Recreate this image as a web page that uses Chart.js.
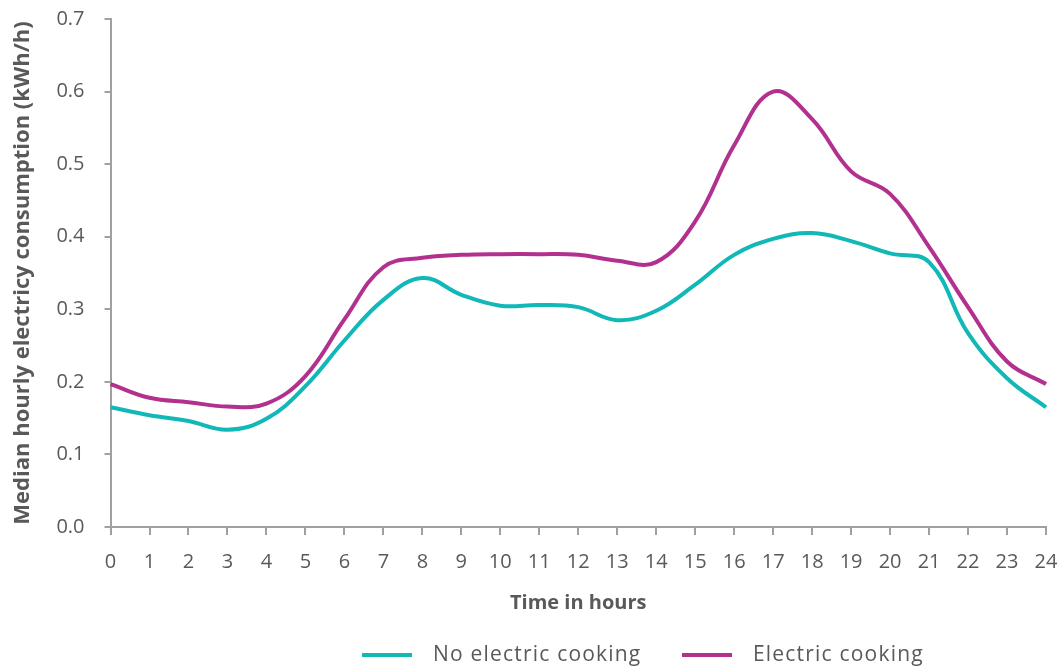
<!DOCTYPE html>
<html>
<head>
<meta charset="utf-8">
<script src="https://cdn.jsdelivr.net/npm/chart.js@4/dist/chart.umd.min.js"></script>
<style>
  html, body { margin: 0; padding: 0; background: #ffffff; }
  #wrap { width: 1061px; height: 666px; position: relative; }
</style>
</head>
<body>
<div id="wrap"><canvas id="c" width="1061" height="666"></canvas></div>
<script>
// ---- Data ----
const hours = ['0','1','2','3','4','5','6','7','8','9','10','11','12','13','14','15','16','17','18','19','20','21','22','23','24'];
const noElectricCooking = [0.165,0.154,0.146,0.134,0.149,0.194,0.257,0.313,0.343,0.320,0.305,0.306,0.303,0.285,0.298,0.334,0.375,0.397,0.405,0.394,0.377,0.365,0.267,0.205,0.165];
const electricCooking   = [0.197,0.178,0.172,0.166,0.170,0.208,0.286,0.358,0.371,0.375,0.376,0.376,0.375,0.367,0.365,0.421,0.526,0.600,0.562,0.490,0.459,0.386,0.303,0.228,0.197];
const seriesNames = ['No electric cooking', 'Electric cooking'];
const yTitle = 'Median hourly electricy consumption (kWh/h)';
const xTitle = 'Time in hours';

const TEXT = '#595959';
const AXIS = '#A0A0A0';
const TEAL = '#12B8B8';
const MAGENTA = '#B2318F';
const FONT = "'Open Sans', 'Liberation Sans', sans-serif";

// Custom legend drawn below the chart (positions are style only)
const legendPlugin = {
  id: 'bottomLegend',
  afterDraw(chart, args, opts) {
    const ctx = chart.ctx;
    ctx.save();
    chart.data.datasets.forEach((ds, i) => {
      const x = opts.anchors[i];
      const y = opts.y;
      ctx.strokeStyle = ds.borderColor;
      ctx.lineWidth = 4;
      ctx.lineCap = 'butt';
      ctx.beginPath();
      ctx.moveTo(x, y);
      ctx.lineTo(x + opts.lineLen, y);
      ctx.stroke();
      ctx.fillStyle = TEXT;
      ctx.font = opts.font;
      ctx.textBaseline = 'middle';
      ctx.textAlign = 'left';
      try { ctx.letterSpacing = opts.letterSpacing; } catch (e) {}
      ctx.fillText(ds.label, x + opts.textGap, y);
    });
    ctx.restore();
  }
};

new Chart(document.getElementById('c'), {
  type: 'line',
  data: {
    labels: hours,
    datasets: [
      { label: seriesNames[0], data: noElectricCooking, borderColor: TEAL, backgroundColor: TEAL,
        borderWidth: 4, pointRadius: 0, tension: 0.4, fill: false },
      { label: seriesNames[1], data: electricCooking, borderColor: MAGENTA, backgroundColor: MAGENTA,
        borderWidth: 4, pointRadius: 0, tension: 0.4, fill: false }
    ]
  },
  options: {
    responsive: false,
    animation: false,
    devicePixelRatio: 1,
    layout: { padding: { top: 19, right: 15, bottom: 47, left: 0 } },
    plugins: {
      legend: { display: false },
      tooltip: { enabled: false },
      bottomLegend: { anchors: [362, 682], y: 655, lineLen: 50, textGap: 71,
                      font: "21px " + FONT, letterSpacing: '1.2px' }
    },
    scales: {
      x: {
        type: 'category',
        offset: false,
        afterFit: s => { s.paddingLeft = 0; s.paddingRight = 0; },
        grid: { display: true, drawOnChartArea: false, drawTicks: true, tickLength: 8, color: AXIS, lineWidth: 2 },
        border: { display: true, color: AXIS, width: 2 },
        ticks: { color: TEXT, font: { family: FONT, size: 20 }, padding: 15, maxRotation: 0, autoSkip: false },
        title: { display: true, text: xTitle, color: TEXT, font: { family: FONT, size: 20, weight: 'bold' },
                 padding: { top: 2, bottom: 4 } }
      },
      y: {
        min: 0, max: 0.7,
        afterFit: s => { s.paddingTop = 0; s.paddingBottom = 0; },
        grid: { display: true, drawOnChartArea: false, drawTicks: true, tickLength: 6, color: AXIS, lineWidth: 2 },
        border: { display: true, color: AXIS, width: 2 },
        ticks: { stepSize: 0.1, color: TEXT, font: { family: FONT, size: 20 }, padding: 20,
                 callback: v => Number(v).toFixed(1) },
        title: { display: true, text: yTitle, color: TEXT, font: { family: FONT, size: 22, weight: 'bold' },
                 padding: { top: 10, bottom: 0 } }
      }
    }
  },
  plugins: [legendPlugin]
});
</script>
</body>
</html>
